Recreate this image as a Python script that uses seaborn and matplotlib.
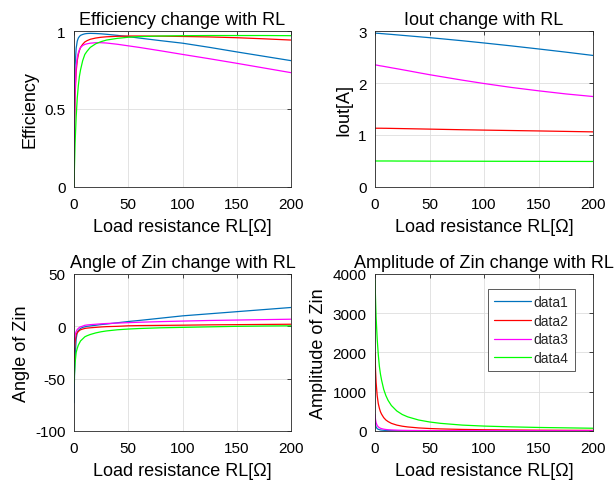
"""
Four-panel sweep of load resistance RL: efficiency, Iout, angle and amplitude of Zin.
"""

import matplotlib

matplotlib.use("Agg")
import matplotlib.pyplot as plt
import pandas as pd
import seaborn as sns

# Load resistance samples (ohm), shared by every curve
rl = [0, 0.5, 1, 2, 3, 4, 5, 6, 8, 10, 12, 15, 20, 25, 30, 40, 50, 60, 80, 100, 125, 150, 175, 200]

series_names = ["data1", "data2", "data3", "data4"]
series_colors = ["#0072BD", "#FF0000", "#FF00FF", "#00FF00"]

# Efficiency
eff_data1 = [0, 0.60, 0.78, 0.89, 0.935, 0.955, 0.965, 0.972, 0.978, 0.982, 0.984, 0.985, 0.984,
             0.982, 0.979, 0.972, 0.964, 0.955, 0.938, 0.922, 0.895, 0.866, 0.838, 0.810]
eff_data2 = [0, 0.40, 0.58, 0.74, 0.81, 0.85, 0.875, 0.895, 0.915, 0.93, 0.938, 0.947, 0.955,
             0.96, 0.963, 0.966, 0.968, 0.968, 0.967, 0.965, 0.962, 0.957, 0.950, 0.942]
eff_data3 = [0, 0.45, 0.62, 0.77, 0.83, 0.86, 0.88, 0.893, 0.907, 0.914, 0.918, 0.922, 0.925,
             0.925, 0.923, 0.915, 0.905, 0.895, 0.873, 0.850, 0.822, 0.793, 0.763, 0.733]
eff_data4 = [0, 0.15, 0.28, 0.45, 0.57, 0.65, 0.71, 0.75, 0.81, 0.85, 0.87, 0.895, 0.918,
             0.932, 0.942, 0.953, 0.960, 0.964, 0.968, 0.970, 0.971, 0.971, 0.971, 0.970]

# Output current [A]
iout_data1 = [2.96, 2.959, 2.958, 2.957, 2.955, 2.954, 2.952, 2.95, 2.947, 2.943, 2.94, 2.935,
              2.926, 2.917, 2.908, 2.89, 2.872, 2.853, 2.813, 2.77, 2.714, 2.655, 2.594, 2.53]
iout_data2 = [1.13, 1.13, 1.13, 1.13, 1.13, 1.13, 1.13, 1.13, 1.129, 1.129, 1.128, 1.127, 1.125,
              1.123, 1.121, 1.117, 1.113, 1.109, 1.101, 1.094, 1.086, 1.078, 1.069, 1.06]
iout_data3 = [2.35, 2.348, 2.346, 2.342, 2.338, 2.334, 2.33, 2.327, 2.32, 2.312, 2.305, 2.293,
              2.275, 2.256, 2.237, 2.198, 2.16, 2.125, 2.055, 1.99, 1.915, 1.85, 1.79, 1.74]
iout_data4 = [0.50, 0.50, 0.50, 0.50, 0.50, 0.50, 0.50, 0.50, 0.50, 0.50, 0.50, 0.50, 0.499,
              0.499, 0.499, 0.498, 0.497, 0.497, 0.496, 0.495, 0.494, 0.493, 0.492, 0.491]

# Angle of Zin
ang_data1 = [-73, -45, -30, -12, -6, -4, -3, -2, -1, -0.5, 0, 0.4, 1, 1.7, 2.2, 3.4, 4.6, 5.6,
             7.8, 10, 12, 14, 16, 18]
ang_data2 = [-34, -22, -15, -8, -6, -5, -4, -3.3, -2.6, -2, -1.7, -1.4, -1, -0.6, -0.3, 0, 0.5,
             0.7, 0.9, 1.1, 1.4, 1.6, 1.8, 2]
ang_data3 = [-20, -13, -8, -5, -3, -2, -1, -0.5, 0.2, 1, 1.3, 1.6, 2, 2.4, 2.7, 3.1, 3.5, 3.9,
             4.5, 5, 5.6, 6, 6.4, 6.8]
ang_data4 = [-54, -44, -35, -25, -21, -18, -16, -14, -12, -10, -9, -7.8, -6.3, -5.2, -4.4, -3.3,
             -2.6, -2.1, -1.4, -1, -0.5, 0, 0.3, 0.5]

# Amplitude of Zin
amp_data1 = [300, 150, 100, 60, 43, 34, 27, 23, 18, 14, 12, 10, 7, 6, 5, 4, 3, 2.6, 2, 1.6, 1.3,
             1.1, 1, 1]
amp_data2 = [2000, 1550, 1240, 900, 700, 580, 490, 430, 340, 280, 240, 195, 150, 122, 103, 78,
             63, 53, 40, 32, 26, 21, 18, 16]
amp_data3 = [420, 290, 210, 140, 105, 84, 70, 60, 47, 38, 32, 27, 21, 17, 15, 12, 10, 9, 8, 7,
             6.5, 6, 5.5, 5]
amp_data4 = [3850, 3350, 2900, 2350, 1950, 1650, 1450, 1300, 1060, 900, 780, 650, 510, 420, 360,
             280, 230, 195, 150, 125, 105, 90, 80, 70]

panels = [
    ("Efficiency change with RL", "Efficiency", [eff_data1, eff_data2, eff_data3, eff_data4],
     (0, 1), [0, 0.5, 1], ["0", "0.5", "1"]),
    ("Iout change with RL", "Iout[A]", [iout_data1, iout_data2, iout_data3, iout_data4],
     (0, 3), [0, 1, 2, 3], ["0", "1", "2", "3"]),
    ("Angle of Zin change with RL", "Angle of Zin", [ang_data1, ang_data2, ang_data3, ang_data4],
     (-100, 50), [-100, -50, 0, 50], ["-100", "-50", "0", "50"]),
    ("Amplitude of Zin change with RL", "Amplitude of Zin",
     [amp_data1, amp_data2, amp_data3, amp_data4],
     (0, 4000), [0, 1000, 2000, 3000, 4000], ["0", "1000", "2000", "3000", "4000"]),
]

# axes rectangles in figure fractions (left, bottom, width, height)
positions = [
    (74 / 614, 0.6124, 217 / 614, 0.3216),
    (375 / 614, 0.6124, 218 / 614, 0.3216),
    (74 / 614, 0.1093, 217 / 614, 0.3237),
    (375 / 614, 0.1093, 218 / 614, 0.3237),
]

sns.set_theme(style="white")
plt.rcParams["font.family"] = ["Liberation Sans", "DejaVu Sans"]

fig = plt.figure(figsize=(6.14, 4.85), dpi=100)

axes = []
for (title, ylabel, curves, ylim, yticks, yticklabels), pos in zip(panels, positions):
    ax = fig.add_axes(pos)
    for name, color, vals in zip(series_names, series_colors, curves):
        df = pd.DataFrame({"RL": rl, "val": vals})
        sns.lineplot(data=df, x="RL", y="val", color=color, linewidth=0.9, ax=ax, label=name,
                     legend=False)
    ax.set_xlim(0, 200)
    ax.set_ylim(*ylim)
    ax.set_xticks([0, 50, 100, 150, 200])
    ax.set_yticks(yticks)
    ax.set_yticklabels(yticklabels)
    ax.set_title(title, fontsize=13, color="black", pad=5)
    ax.set_xlabel("Load resistance RL[Ω]", fontsize=13, color="black", labelpad=5)
    ax.set_ylabel(ylabel, fontsize=13, color="black", labelpad=4)
    ax.grid(True, color="#dedede", linewidth=0.6)
    ax.tick_params(direction="in", length=3, width=0.6, top=True, right=True,
                   labelsize=11, colors="#262626", labelcolor="black")
    ax.tick_params(axis="x", pad=7.5)
    ax.tick_params(axis="y", pad=6)
    for spine in ax.spines.values():
        spine.set_visible(True)
        spine.set_color("#262626")
        spine.set_linewidth(0.6)
    axes.append(ax)

leg = axes[3].legend(loc="upper left", bbox_to_anchor=(488 / 614, 1 - 290 / 485),
                     bbox_transform=fig.transFigure, borderaxespad=0, fontsize=10,
                     frameon=True, fancybox=False, framealpha=1, edgecolor="#404040",
                     handlelength=2.65, labelspacing=0.33, borderpad=0.45,
                     handletextpad=0.2)
leg.get_frame().set_linewidth(0.6)

fig.savefig("out.png", dpi=100)
